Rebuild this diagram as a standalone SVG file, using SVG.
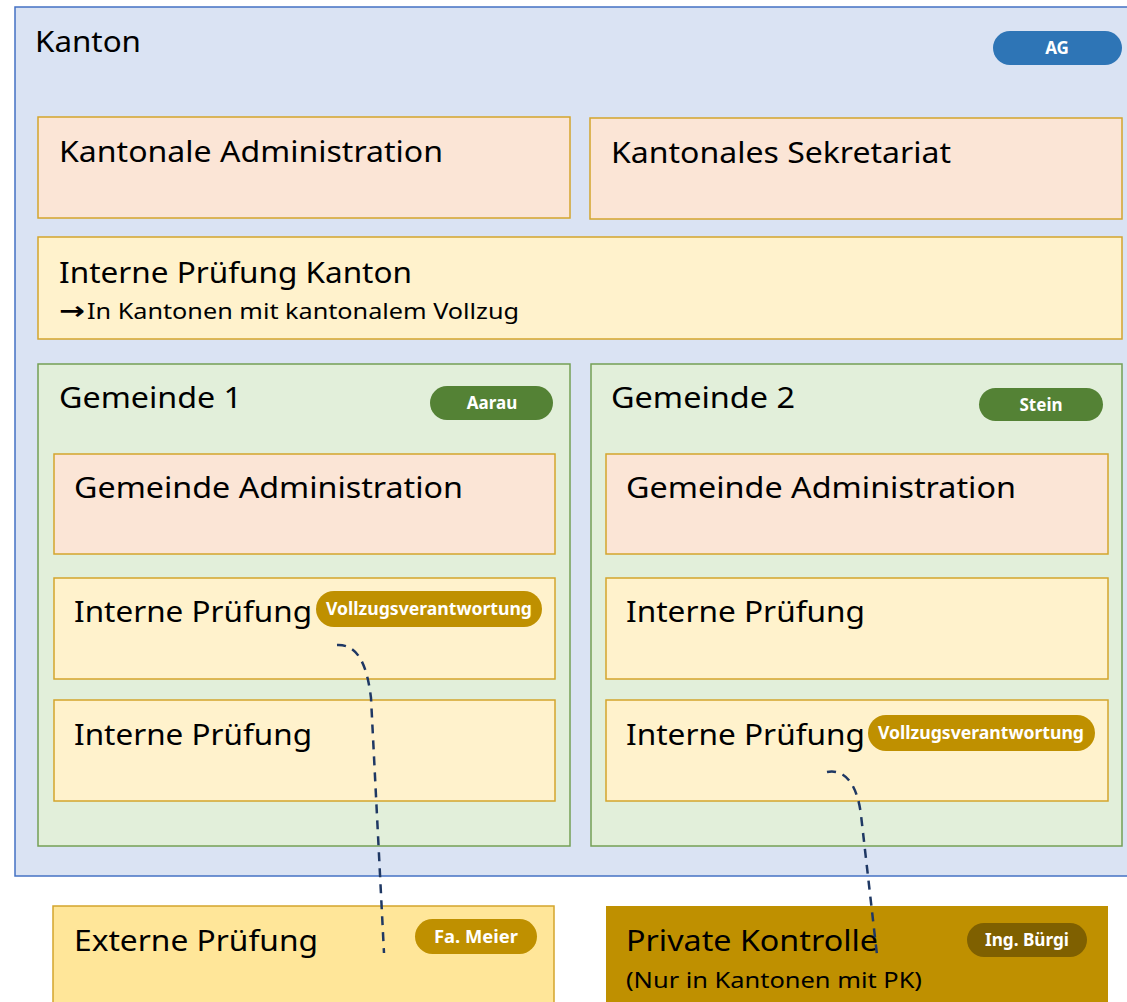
<svg xmlns="http://www.w3.org/2000/svg" width="1127" height="1002" viewBox="0 0 1127 1002">
<style>
.t{font-family:"Noto Sans","Open Sans",sans-serif;font-size:29px;fill:#000}
.s{font-family:"Noto Sans","Open Sans",sans-serif;font-size:22px;fill:#000}
.p{font-family:"Noto Sans","Open Sans",sans-serif;font-size:17px;font-weight:bold;fill:#fff;text-anchor:middle}
.adm{fill:#FBE5D6;stroke:#D4A52D;stroke-width:1.5}
.ip{fill:#FFF2CC;stroke:#D4A52D;stroke-width:1.5}
.gem{fill:#E2EFDA;stroke:#74A055;stroke-width:1.5}
.dash{fill:none;stroke:#1F3864;stroke-width:2.5;stroke-dasharray:9 7}
</style>
<rect width="1127" height="1002" fill="#fff"/>
<g id="kanton">
<rect x="15" y="7" width="1130" height="869" fill="#DAE3F3" stroke="#4472C4" stroke-width="1.5"/>
<text class="t" x="35" y="52" textLength="106" lengthAdjust="spacingAndGlyphs">Kanton</text>
<rect x="993" y="31" width="129" height="34" rx="17" fill="#2E75B6"/>
<text class="p" x="1057" y="54">AG</text>
</g>
<g id="kantonale-administration">
<rect class="adm" x="38" y="117" width="532" height="101"/>
<text class="t" x="59" y="162" textLength="384" lengthAdjust="spacingAndGlyphs">Kantonale Administration</text>
</g>
<g id="kantonales-sekretariat">
<rect class="adm" x="590" y="118" width="532" height="101"/>
<text class="t" x="611" y="163" textLength="340" lengthAdjust="spacingAndGlyphs">Kantonales Sekretariat</text>
</g>
<g id="interne-pruefung-kanton">
<rect class="ip" x="38" y="237" width="1084" height="102"/>
<text class="t" x="59" y="283" textLength="353" lengthAdjust="spacingAndGlyphs">Interne Prüfung Kanton</text>
<text class="s" x="59" y="319"><tspan font-family="DejaVu Sans" font-size="24" font-weight="bold" textLength="26" lengthAdjust="spacingAndGlyphs">→</tspan><tspan x="87" textLength="432" lengthAdjust="spacingAndGlyphs">In Kantonen mit kantonalem Vollzug</tspan></text>
</g>
<g id="gemeinde1">
<rect class="gem" x="38" y="364" width="532" height="482"/>
<text class="t" x="59" y="408" textLength="183" lengthAdjust="spacingAndGlyphs">Gemeinde 1</text>
<rect x="430" y="386" width="123" height="34" rx="17" fill="#548235"/>
<text class="p" x="492" y="409">Aarau</text>
</g>
<g id="gemeinde2">
<rect class="gem" x="591" y="364" width="531" height="482"/>
<text class="t" x="611" y="408" textLength="184" lengthAdjust="spacingAndGlyphs">Gemeinde 2</text>
<rect x="979" y="388" width="124" height="33" rx="16.5" fill="#548235"/>
<text class="p" x="1041" y="411">Stein</text>
</g>
<g id="gemeinde1-administration">
<rect class="adm" x="54" y="454" width="501" height="100"/>
<text class="t" x="74" y="498" textLength="389" lengthAdjust="spacingAndGlyphs">Gemeinde Administration</text>
</g>
<g id="gemeinde2-administration">
<rect class="adm" x="606" y="454" width="502" height="100"/>
<text class="t" x="626" y="498" textLength="390" lengthAdjust="spacingAndGlyphs">Gemeinde Administration</text>
</g>
<g id="gemeinde1-interne-pruefung-a">
<rect class="ip" x="54" y="578" width="501" height="101"/>
<text class="t" x="74" y="622" textLength="238" lengthAdjust="spacingAndGlyphs">Interne Prüfung</text>
<rect x="316" y="591" width="226" height="36" rx="18" fill="#BF9000"/>
<text class="p" x="429" y="615" textLength="206" lengthAdjust="spacingAndGlyphs">Vollzugsverantwortung</text>
</g>
<g id="gemeinde1-interne-pruefung-b">
<rect class="ip" x="54" y="700" width="501" height="101"/>
<text class="t" x="74" y="745" textLength="238" lengthAdjust="spacingAndGlyphs">Interne Prüfung</text>
</g>
<g id="gemeinde2-interne-pruefung-a">
<rect class="ip" x="606" y="578" width="502" height="101"/>
<text class="t" x="626" y="622" textLength="239" lengthAdjust="spacingAndGlyphs">Interne Prüfung</text>
</g>
<g id="gemeinde2-interne-pruefung-b">
<rect class="ip" x="606" y="700" width="502" height="101"/>
<text class="t" x="626" y="745" textLength="239" lengthAdjust="spacingAndGlyphs">Interne Prüfung</text>
<rect x="868" y="715" width="227" height="36" rx="18" fill="#BF9000"/>
<text class="p" x="981" y="739" textLength="206" lengthAdjust="spacingAndGlyphs">Vollzugsverantwortung</text>
</g>
<g id="externe-pruefung">
<rect x="53" y="906" width="501" height="110" fill="#FFE699" stroke="#D4A52D" stroke-width="1.5"/>
<text class="t" x="74" y="951" textLength="244" lengthAdjust="spacingAndGlyphs">Externe Prüfung</text>
<rect x="415" y="919" width="122" height="35" rx="17.5" fill="#BF9000"/>
<text class="p" x="476" y="943" textLength="84" lengthAdjust="spacingAndGlyphs">Fa. Meier</text>
</g>
<g id="private-kontrolle">
<rect x="606" y="906" width="502" height="110" fill="#BF9000"/>
<text class="t" x="626" y="951" textLength="252" lengthAdjust="spacingAndGlyphs">Private Kontrolle</text>
<text class="s" x="626" y="988" textLength="296" lengthAdjust="spacingAndGlyphs">(Nur in Kantonen mit PK)</text>
<rect x="967" y="923" width="120" height="34" rx="17" fill="#7F6000"/>
<text class="p" x="1027" y="946" textLength="84" lengthAdjust="spacingAndGlyphs">Ing. Bürgi</text>
</g>
<g id="connectors">
<path class="dash" d="M337,645 C358,644 367,665 371,698 L384,953"/>
<path class="dash" d="M827,772 C848,768 858,790 861,815 L877,955"/>
</g>
</svg>
